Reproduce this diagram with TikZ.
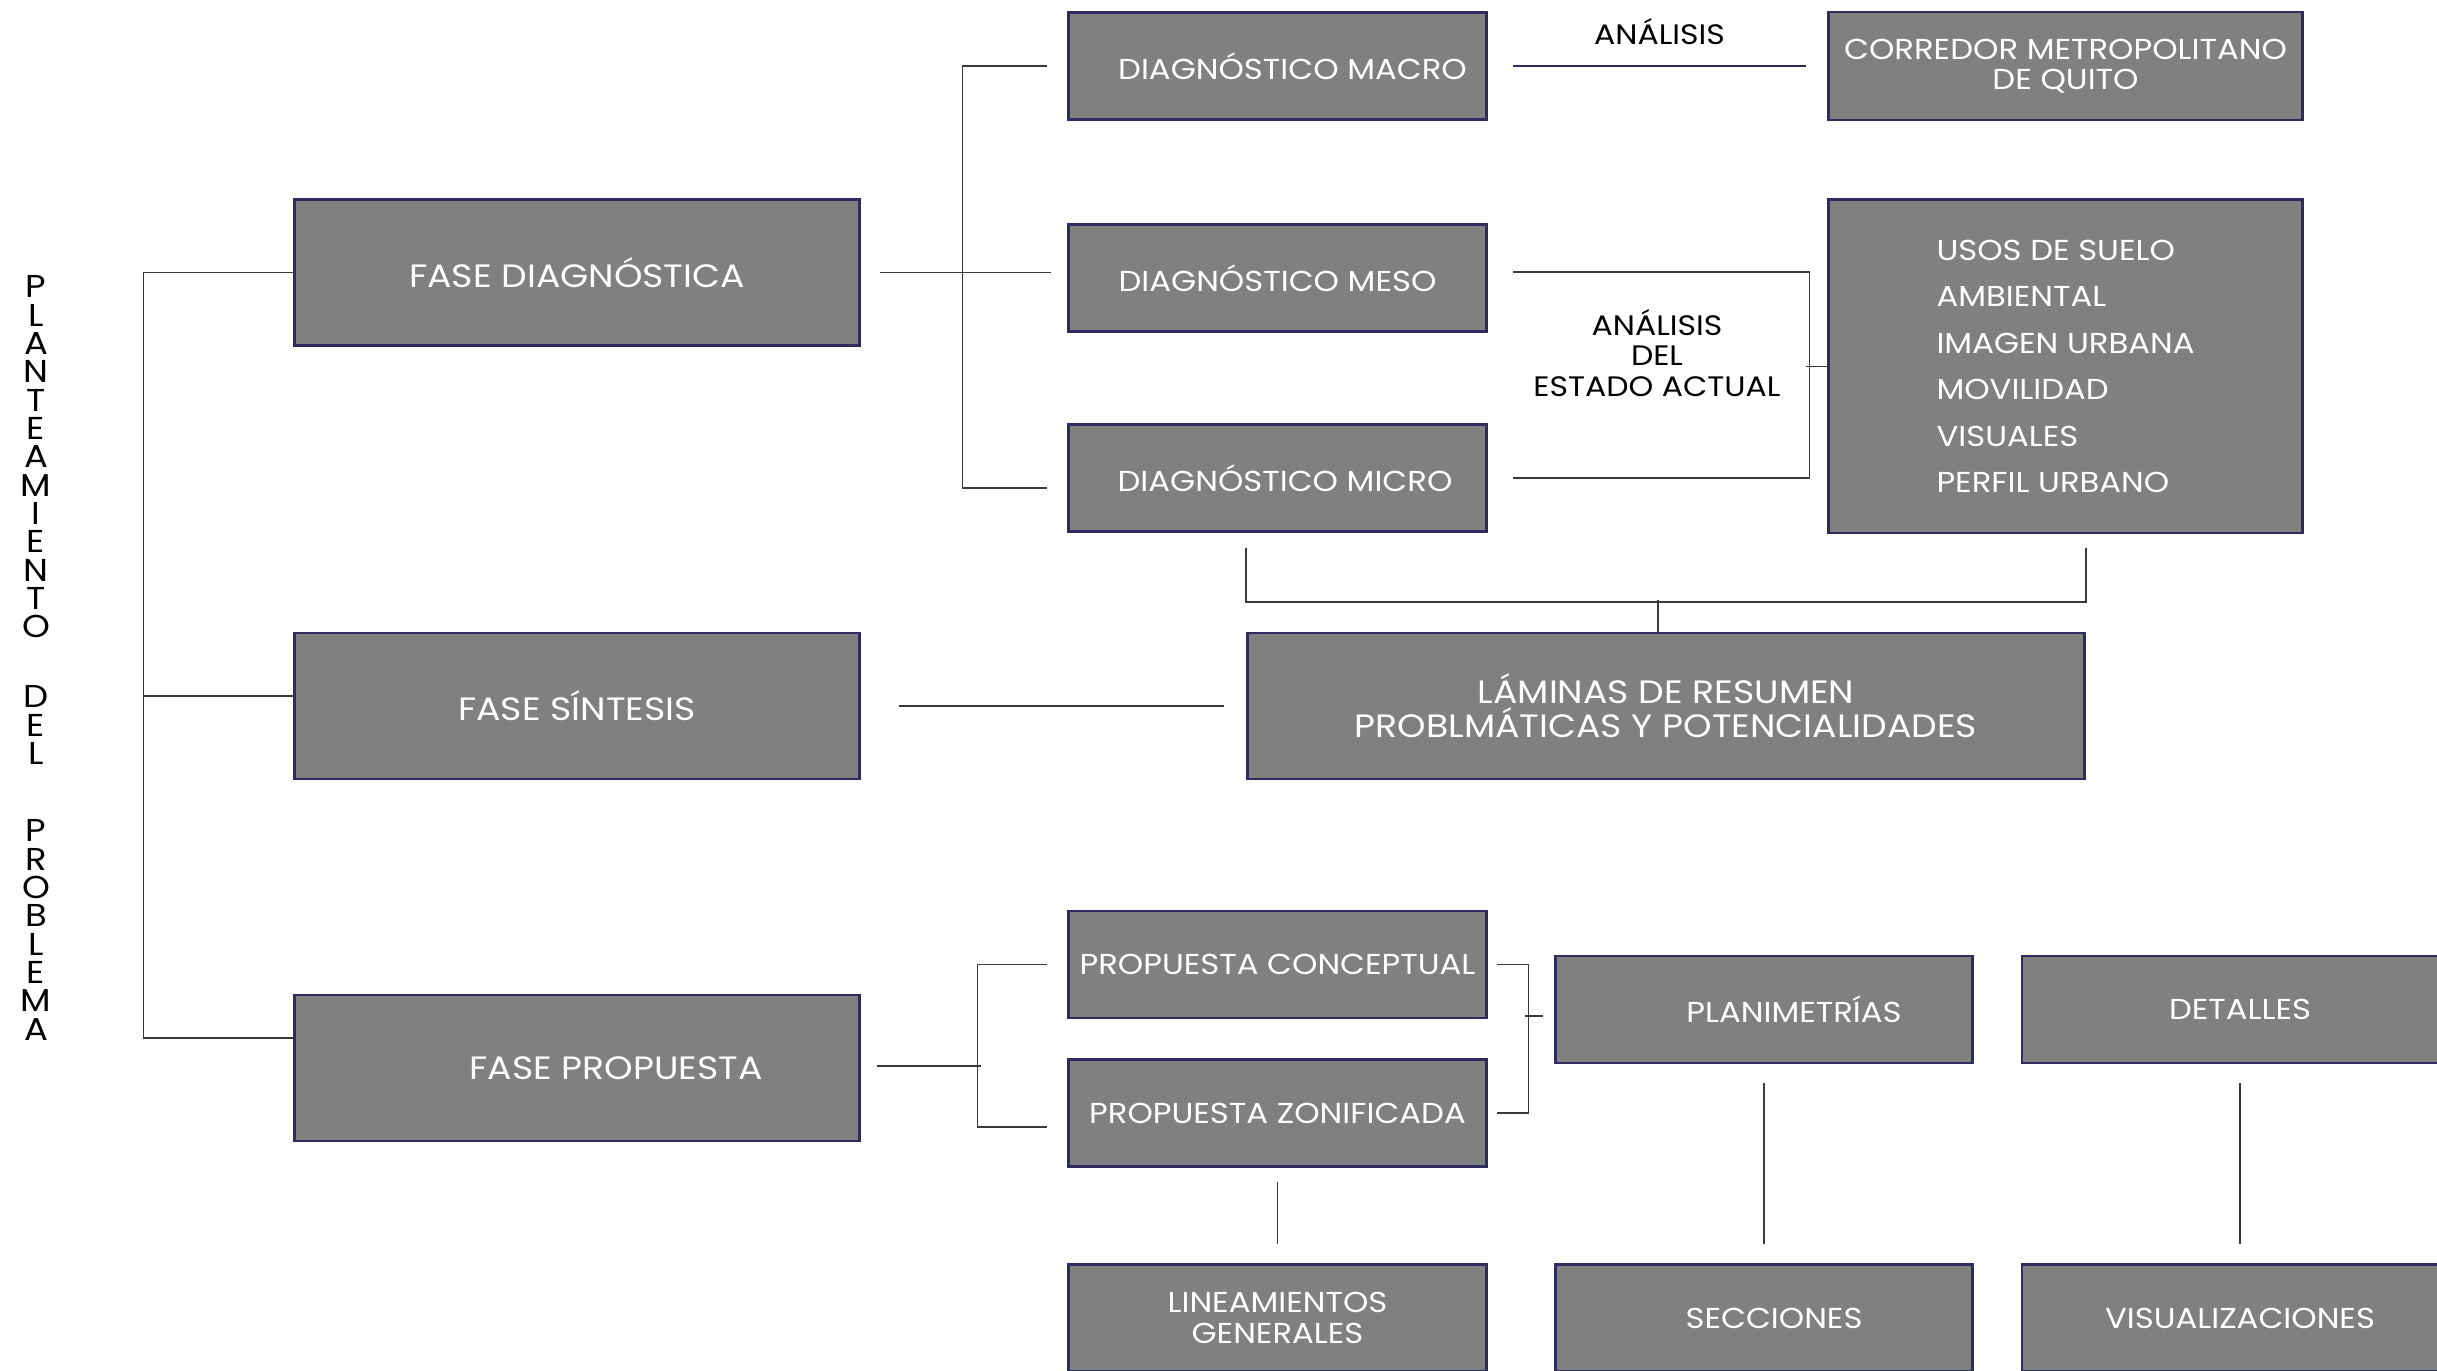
\documentclass[tikz,border=0pt]{standalone}
\usepackage{fontspec}
\setmainfont{Poppins}[FakeStretch=1.12]
\definecolor{boxgray}{HTML}{808080}
\definecolor{navy}{HTML}{2E2B5F}
\definecolor{linegray}{HTML}{3A3A3A}
\begin{document}
\begin{tikzpicture}[x=0.01cm, y=-0.01cm,
  box/.style={draw=navy, line width=0.8pt, fill=boxgray, text=white, inner sep=0pt, align=center},
  big/.style={box, font=\fontsize{9.2}{9.7}\selectfont},
  small/.style={box, font=\fontsize{8.2}{8.6}\selectfont},
  fase/.style={big, minimum width=5.64cm, minimum height=1.46cm},
  diag/.style={small, minimum width=4.17cm, minimum height=1.07cm},
  side/.style={small, minimum width=4.73cm},
  con/.style={draw=linegray, line width=0.5pt},
  lbl/.style={font=\fontsize{8}{8.7}\selectfont, align=center, text=black}]
\useasboundingbox (0,0) rectangle (2437,1371);

\node[font=\fontsize{9}{8.05}\selectfont, align=center] (tit) at (36,658)
  {P\\L\\A\\N\\T\\E\\A\\M\\I\\E\\N\\T\\O\\[0.42cm] D\\E\\L\\[0.49cm] P\\R\\O\\B\\L\\E\\M\\A};

\node[fase] (fdiag) at (577,272.5) {FASE DIAGNÓSTICA};
\node[fase] (fsint) at (577,706) {FASE SÍNTESIS};
\node[fase] (fprop) at (577,1068) {\hspace*{0.78cm}FASE PROPUESTA};

\node[diag] (dmacro) at (1277.5,66) {\hspace*{0.3cm}DIAGNÓSTICO MACRO};
\node[diag] (dmeso) at (1277.5,278) {DIAGNÓSTICO MESO};
\node[diag] (dmicro) at (1277.5,478) {\hspace*{0.15cm}DIAGNÓSTICO MICRO};
\node[side, minimum height=1.08cm] (corredor) at (2065.5,66) {CORREDOR METROPOLITANO\\DE QUITO};
\node[side, minimum height=3.33cm, align=left, font=\fontsize{8.2}{13.2}\selectfont] (usos) at (2065.5,366.5)
  {USOS DE SUELO\\AMBIENTAL\\IMAGEN URBANA\\MOVILIDAD\\VISUALES\\PERFIL URBANO};
\node[big, minimum width=8.36cm, minimum height=1.46cm] (laminas) at (1666,706)
  {LÁMINAS DE RESUMEN\\PROBLMÁTICAS Y POTENCIALIDADES};

\node[diag] (pconc) at (1277.5,964.5) {PROPUESTA CONCEPTUAL};
\node[diag] (pzon) at (1277.5,1113) {PROPUESTA ZONIFICADA};
\node[diag] (lineam) at (1277.5,1318) {LINEAMIENTOS\\GENERALES};
\node[diag] (plani) at (1764,1009.5) {\hspace*{0.6cm}PLANIMETRÍAS};
\node[diag] (secc) at (1764,1318) {\hspace*{0.2cm}SECCIONES};
\node[diag, minimum width=4.36cm] (detalles) at (2240,1009.5) {DETALLES};
\node[diag, minimum width=4.36cm] (visual) at (2240,1318) {VISUALIZACIONES};

% left bracket
\draw[con] (fdiag.west) -- ++(-150,0) |- ([yshift=0.3cm]fprop.west);
\draw[con] ([yshift=0.1cm]fsint.west) -- ++(-150,0);

% diagnostico
\draw[con] ([xshift=0.19cm]fdiag.east) -- ++(171,0);
\draw[con] ([xshift=-0.2cm]dmacro.west) -- ++(-85,0) |- ([xshift=-0.2cm,yshift=-0.1cm]dmicro.west);
\draw[navy, line width=0.6pt] ([xshift=0.25cm]dmacro.east) -- node[lbl, above=0.09cm] (lan1) {ANÁLISIS} ([xshift=-0.21cm]corredor.west);
\draw[con] ([xshift=0.25cm,yshift=0.06cm]dmeso.east) -- ++(297,0) |- ([xshift=0.25cm]dmicro.east);
\draw[con] (usos.west) -- ++(-21,0);
\node[lbl] (lan2) at (1657,353) {ANÁLISIS\\DEL\\ESTADO ACTUAL};

% sintesis
\coordinate (bt) at ([yshift=-0.15cm]dmicro.south);
\draw[con] (bt -| laminas.west) -- ++(0,54) -| (bt -| laminas.east);
\draw[con] ([xshift=-0.08cm]laminas.north) -- ++(0,-32);
\draw[con] ([xshift=0.38cm]fsint.east) -- ([xshift=-0.22cm]laminas.west);

% propuesta
\draw[con] ([xshift=0.16cm,yshift=0.02cm]fprop.east) -- ++(104,0);
\draw[con] ([xshift=-0.2cm]pconc.west) -- ++(-70,0) |- ([xshift=-0.2cm,yshift=-0.14cm]pzon.west);
\draw[con] ([xshift=0.09cm]pconc.east) -- ++(32,0) |- ([xshift=0.09cm]pzon.east);
\draw[con] ([xshift=-0.11cm,yshift=-0.065cm]plani.west) -- ++(-18,0);
\draw[con] ([yshift=-0.14cm]pzon.south) -- ([yshift=0.19cm]lineam.north);
\draw[con] ([yshift=-0.19cm]plani.south) -- ([yshift=0.19cm]secc.north);
\draw[con] ([yshift=-0.19cm]detalles.south) -- ([yshift=0.19cm]visual.north);

\end{tikzpicture}
\end{document}
